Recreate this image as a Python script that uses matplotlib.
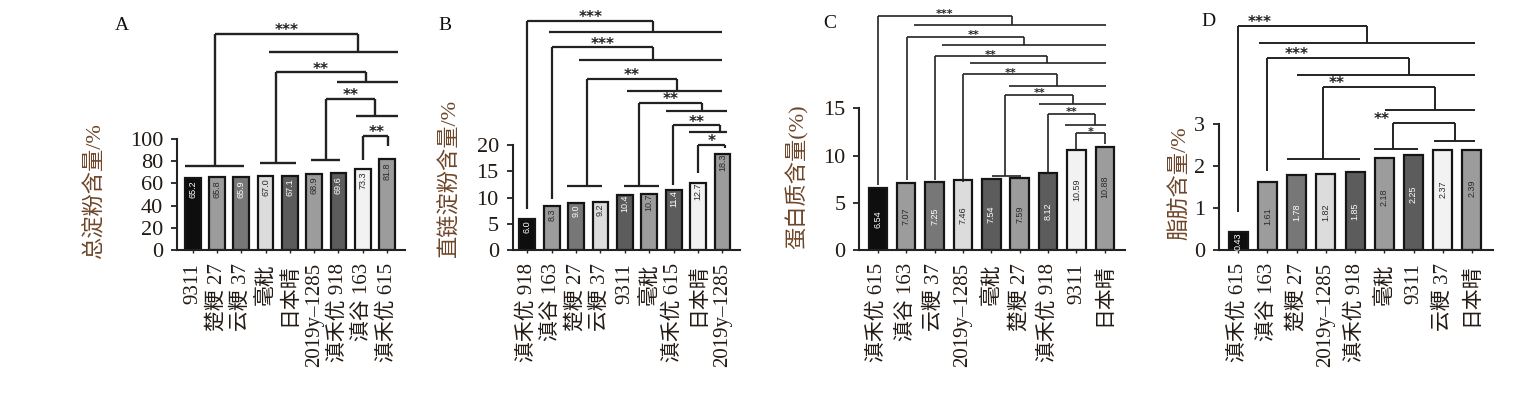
import matplotlib
matplotlib.use("Agg")
import matplotlib.pyplot as plt

plt.rcParams['font.family'] = ['Liberation Serif', 'Noto Sans CJK SC']

# ---- data -------------------------------------------------------------
a_names = ["9311", "楚粳 27", "云粳 37", "毫秕", "日本晴", "2019y–1285", "滇禾优 918", "滇谷 163", "滇禾优 615"]
a_values = [65.2, 65.8, 65.9, 67.0, 67.1, 68.9, 69.6, 73.3, 81.8]

b_names = ["滇禾优 918", "滇谷 163", "楚粳 27", "云粳 37", "9311", "毫秕", "滇禾优 615", "日本晴", "2019y–1285"]
b_values = [6.0, 8.3, 9.0, 9.2, 10.4, 10.7, 11.4, 12.7, 18.3]

c_names = ["滇禾优 615", "滇谷 163", "云粳 37", "2019y–1285", "毫秕", "楚粳 27", "滇禾优 918", "9311", "日本晴"]
c_values = [6.54, 7.07, 7.25, 7.46, 7.54, 7.59, 8.12, 10.59, 10.88]

d_names = ["滇禾优 615", "滇谷 163", "楚粳 27", "2019y–1285", "滇禾优 918", "毫秕", "9311", "云粳 37", "日本晴"]
d_values = [0.43, 1.61, 1.78, 1.82, 1.85, 2.18, 2.25, 2.37, 2.39]

# significance brackets: (left x, left y, left group span, right x, right y,
# right group span, top y, stars, star x)  -- x in bar index units
a_brackets = [
    (0.92, 75.3, (-0.32, 2.11), 6.81, 178.3, (3.15, 8.45), 194.9, "***", 3.86),
    (3.45, 78.3, (2.77, 4.25), 7.12, 151.2, (5.96, 8.45), 160.2, "**", 5.28),
    (5.48, 81.3, (4.86, 6.08), 7.49, 120.5, (6.74, 8.45), 136.4, "**", 6.49),
    (7.01, 81.3, None, 8.04, 93.4, None, 103.0, "**", 7.56),
]
b_brackets = [
    (0.0, 7.9, None, 5.14, 41.5, (0.89, 7.98), 43.7, "***", 2.61),
    (1.0, 9.8, None, 5.14, 36.2, (2.12, 7.98), 38.6, "***", 3.07),
    (2.44, 12.25, (1.64, 3.08), 6.13, 30.3, (4.10, 7.98), 32.6, "**", 4.28),
    (4.56, 12.25, (3.98, 5.38), 7.15, 26.5, (5.69, 8.18), 28.1, "**", 5.86),
    (5.99, 12.4, None, 7.88, 22.4, (6.61, 8.18), 23.8, "**", 6.94),
    (6.99, 14.6, None, 8.11, 19.4, None, 20.1, "*", 7.55),
]
c_brackets = [
    (0.0, 6.88, None, 4.72, 23.8, (1.26, 8.04), 24.8, "***", 2.36),
    (1.02, 7.4, None, 5.15, 21.7, (2.25, 8.04), 22.6, "**", 3.37),
    (2.02, 7.4, None, 5.95, 19.8, (3.25, 8.04), 20.5, "**", 3.98),
    (3.01, 7.2, None, 6.32, 17.4, (4.63, 8.04), 18.6, "**", 4.67),
    (4.5, 7.87, (4.01, 5.03), 6.89, 15.5, (5.69, 8.04), 16.4, "**", 5.7),
    (6.01, 8.1, None, 7.65, 13.2, (6.59, 8.04), 14.4, "**", 6.83),
    (7.0, 10.6, None, 8.0, 11.2, None, 12.35, "*", 7.5),
]
d_brackets = [
    (0.0, 0.9, None, 4.42, 4.92, (0.72, 8.11), 5.34, "***", 0.74),
    (0.99, 1.89, None, 5.85, 4.17, (2.0, 8.11), 4.57, "***", 2.0),
    (2.91, 2.17, (1.68, 4.17), 6.74, 3.33, (5.03, 8.11), 3.89, "**", 3.37),
    (5.29, 2.40, (4.63, 6.14), 7.43, 2.60, (6.69, 8.11), 3.02, "**", 4.91),
]

# ---- style ------------------------------------------------------------
W, H = 1532, 394
BASE = 250          # pixel row of y = 0
TOP = 5
FILLS = ["#0e0e0e", "#9c9c9c", "#777777", "#dcdcdc", "#5c5c5c",
         "#9c9c9c", "#5c5c5c", "#f2f2f2", "#9c9c9c"]
LINE = "#222222"
TICK_C = "#231a14"
YLAB_C = "#6e4528"

panels = [
    dict(letter="A", names=a_names, values=a_values, brackets=a_brackets,
         ylabel="总淀粉含量/%", fmt="{:.1f}", left=177, right=405, ymax=220.7,
         ticks=[0, 20, 40, 60, 80, 100], xlim=(-0.646, 8.74), off=12, star=11, lw=1.7,
         letter_xy=(122, 25), ylab_xy=(95, 191)),
    dict(letter="B", names=b_names, values=b_values, brackets=b_brackets,
         ylabel="直链淀粉含量/%", fmt="{:.1f}", left=512.7, right=740, ymax=46.7,
         ticks=[0, 5, 10, 15, 20], xlim=(-0.6, 8.72), off=8, star=11, lw=1.6,
         letter_xy=(445, 25), ylab_xy=(450, 178)),
    dict(letter="C", names=c_names, values=c_values, brackets=c_brackets,
         ylabel="蛋白质含量(%)", fmt="{:.2f}", left=859.3, right=1125, ymax=25.94,
         ticks=[0, 5, 10, 15], xlim=(-0.65, 8.71), off=40, star=8, lw=1.2,
         letter_xy=(830, 23), ylab_xy=(797, 177)),
    dict(letter="D", names=d_names, values=d_values, brackets=d_brackets,
         ylabel="脂肪含量/%", fmt="{:.2f}", left=1219.3, right=1493, ymax=5.83,
         ticks=[0, 1, 2, 3], xlim=(-0.65, 8.72), off=39, star=11, lw=1.4,
         letter_xy=(1208, 22), ylab_xy=(1180, 183)),
]


def draw_bracket(ax, b, star_size, lw):
    lx, ly, lspan, rx, ry, rspan, top, stars, sx = b
    kw = dict(color=LINE, lw=lw, clip_on=False, solid_capstyle="butt")
    for x, y, span in ((lx, ly, lspan), (rx, ry, rspan)):
        ax.plot([x, x], [y, top], **kw)
        if span is not None:
            ax.plot(span, [y, y], **kw)
    ax.plot([lx, rx], [top, top], **kw)
    ax.annotate(stars, (sx, top), xytext=(0, -1), textcoords="offset points",
                ha="center", va="baseline", fontsize=star_size, fontweight="bold",
                family="DejaVu Sans", color=LINE, annotation_clip=False)


fig = plt.figure(figsize=(W / 100, H / 100), dpi=100)

for p in panels:
    ax = fig.add_axes([p["left"] / W, (H - BASE) / H,
                       (p["right"] - p["left"]) / W, (BASE - TOP) / H])
    xs = list(range(len(p["values"])))
    ax.bar(xs, p["values"], width=0.65, color=FILLS, edgecolor="#151515", linewidth=1.6, zorder=2)
    ax.set_xlim(*p["xlim"])
    ax.set_ylim(0, p["ymax"])

    # value labels inside the bars
    px_per_unit = (BASE - TOP) / p["ymax"]
    for x, v, c in zip(xs, p["values"], FILLS):
        off = min(p["off"], v * px_per_unit / 2)
        light = int(c[1:3], 16) > 0x80
        ax.annotate(p["fmt"].format(v), (x, v), xytext=(0, -off), textcoords="offset pixels",
                    rotation=90, ha="center", va="center", fontsize=6.5,
                    family="Liberation Sans", color="#2a2a2a" if light else "white", zorder=3)

    for b in p["brackets"]:
        draw_bracket(ax, b, p["star"], p["lw"])

    for s in ("top", "right"):
        ax.spines[s].set_visible(False)
    ax.spines["left"].set_bounds(0, p["ticks"][-1])
    for s in ("left", "bottom"):
        ax.spines[s].set_linewidth(1.5)
        ax.spines[s].set_color(LINE)
    ax.set_yticks(p["ticks"])
    ax.set_xticks(xs)
    ax.set_xticklabels(p["names"], rotation=90, fontsize=15, color=TICK_C)
    ax.tick_params(axis="y", length=4.5, width=1.3, pad=5.5, labelsize=16,
                   labelcolor=TICK_C, color=LINE)
    ax.tick_params(axis="x", length=2.5, width=1.0, pad=7, color=LINE)
    ax.patch.set_alpha(0)

    fig.text(p["letter_xy"][0] / W, 1 - p["letter_xy"][1] / H, p["letter"],
             ha="center", va="center", fontsize=14, color="#111111")
    fig.text(p["ylab_xy"][0] / W, 1 - p["ylab_xy"][1] / H, p["ylabel"], rotation=90,
             ha="center", va="center", fontsize=16, color=YLAB_C)

fig.savefig("out.png", dpi=100)
plt.close(fig)
